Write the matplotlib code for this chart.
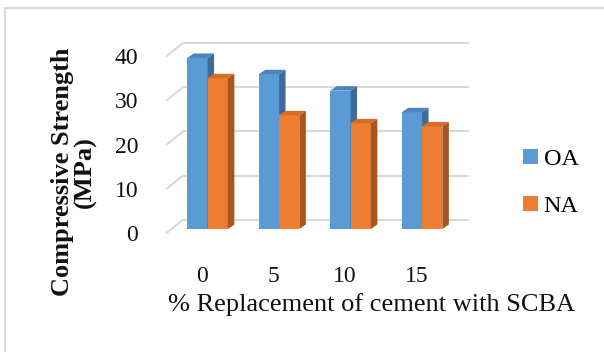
import matplotlib
matplotlib.use("Agg")
import matplotlib.pyplot as plt
from matplotlib.patches import Polygon, Rectangle, Patch

# Data
categories = ["0", "5", "10", "15"]
series_names = ["OA", "NA"]
oa_values = [38.7, 35.0, 31.3, 26.4]
na_values = [34.1, 25.7, 23.9, 23.2]
y_ticks = [0, 10, 20, 30, 40]

# Colours: front, top, side for each series
colors = {
    "OA": ("#5B9BD5", "#4A84BC", "#3D6C98"),
    "NA": ("#ED7D31", "#D66C26", "#A8551F"),
}

plt.rcParams["font.family"] = ["Liberation Serif", "DejaVu Serif"]

W, H = 604, 352
fig = plt.figure(figsize=(W / 100, H / 100), dpi=100)

# Light grey frame around the chart area
fig.patches.append(Rectangle((4.7 / W, -0.05), 1.1, (H - 8) / H + 0.05,
                             transform=fig.transFigure, fill=False,
                             edgecolor="#D9D9D9", linewidth=1.5))

ax = fig.add_axes([166 / W, 119 / H, 286 / W, 176.8 / H])
ax.set_xlim(-0.5, 3.5)
ax.set_ylim(0, 40)

# Perspective offsets (data units)
wall_dx, wall_dy = 0.238, 3.0      # back wall relative to front plane
bar_dx, bar_dy = 0.081, 0.9        # bar front faces relative to front plane
depth_dx, depth_dy = 0.091, 1.02   # depth of each bar
bar_w = 0.284

grid_c = "#D9D9D9"
for v in y_ticks:
    ax.plot([-0.5 + wall_dx, 3.5 + wall_dx], [v + wall_dy, v + wall_dy],
            color=grid_c, lw=1.5, zorder=1, clip_on=False, solid_capstyle="butt")
    ax.plot([-0.5, -0.5 + wall_dx], [v - 0.1, v + wall_dy],
            color=grid_c, lw=1.5, zorder=1, clip_on=False, solid_capstyle="butt")


def draw_bar(x0, h, cols, z):
    front, top, side = cols
    y0 = bar_dy
    ax.bar(x0, h, width=bar_w, bottom=y0, align="edge", color=front,
           zorder=z, clip_on=False, linewidth=0)
    ax.add_patch(Polygon([(x0, y0 + h), (x0 + bar_w, y0 + h),
                          (x0 + bar_w + depth_dx, y0 + h + depth_dy),
                          (x0 + depth_dx, y0 + h + depth_dy)],
                         closed=True, facecolor=top, edgecolor="none",
                         zorder=z, clip_on=False))
    ax.add_patch(Polygon([(x0 + bar_w, y0), (x0 + bar_w + depth_dx, y0 + depth_dy),
                          (x0 + bar_w + depth_dx, y0 + h + depth_dy),
                          (x0 + bar_w, y0 + h)],
                         closed=True, facecolor=side, edgecolor="none",
                         zorder=z, clip_on=False))


for i in range(len(categories)):
    xc = i + bar_dx
    draw_bar(xc - bar_w, oa_values[i], colors["OA"], 2 + 2 * i)
    draw_bar(xc, na_values[i], colors["NA"], 3 + 2 * i)

for s in ax.spines.values():
    s.set_visible(False)
ax.set_xticks(range(len(categories)))
ax.set_xticklabels(categories)
ax.set_yticks(y_ticks)
ax.tick_params(axis="both", length=0, labelsize=17, colors="#111111")
ax.tick_params(axis="x", pad=24)
ax.tick_params(axis="y", pad=20)

ax.set_xlabel("% Replacement of cement with SCBA", fontsize=19, color="#111111")
ax.xaxis.label.set_va("center")
ax.xaxis.set_label_coords((372 - 166) / 286, (H - 305 - 119) / 176.8)

ax.set_ylabel("Compressive Strength\n(MPa)", fontsize=19, fontweight="bold",
              linespacing=1.0, color="#111111")
ax.yaxis.label.set_va("center")
ax.yaxis.set_label_coords((74 - 166) / 286, (H - 172 - 119) / 176.8)

handles = [Patch(facecolor=colors[n][0], edgecolor="none") for n in series_names]
fig.legend(handles, series_names, loc="center left",
           bbox_to_anchor=(523 / W, (H - 183) / H), frameon=False,
           fontsize=17.5, handlelength=0.6, handleheight=0.6,
           handletextpad=0.25, labelspacing=1.05, borderpad=0, borderaxespad=0)

fig.savefig("out.png", dpi=100)
